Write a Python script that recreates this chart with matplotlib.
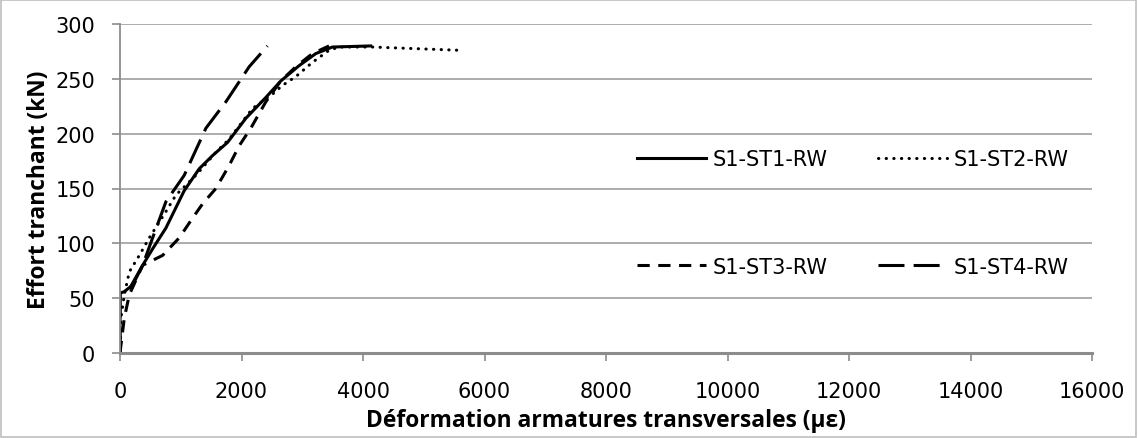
import matplotlib
matplotlib.use("Agg")
import matplotlib.pyplot as plt
from matplotlib.patches import Rectangle

plt.rcParams['font.family'] = ['DejaVu Sans']
LABEL_FONT = ['Open Sans', 'DejaVu Sans']

st1_x = [0, 0, 71, 208, 373, 537, 756, 1057, 1304, 1523, 1770, 2071, 2400, 2646, 2948, 3222, 3496, 4126]
st1_y = [0, 54.5, 56, 62, 80, 95, 114, 148, 168, 180, 192, 214, 233, 248, 262, 273, 279, 280]

st2_x = [0, 16, 71, 153, 318, 482, 756, 920, 1249, 1578, 1797, 2181, 2509, 2674, 2893, 3167, 3441, 3605, 4153, 5605]
st2_y = [0, 32, 53, 74, 89, 105, 129, 144, 162, 183, 195, 223, 236, 244, 252, 265, 276, 279, 279, 276]

st3_x = [0, 71, 153, 373, 701, 975, 1194, 1359, 1578, 1797, 1962, 2153, 2400, 2646, 2893, 3167, 3441]
st3_y = [0, 32, 53, 80, 89, 105, 123, 136, 150, 171, 189, 205, 229, 248, 261, 273, 280]

st4_x = [0, 0, 150, 373, 537, 756, 1057, 1414, 1742, 2126, 2427]
st4_y = [0, 55, 58, 80, 105, 138, 162, 205, 229, 261, 280]

labels = ['S1-ST1-RW', 'S1-ST2-RW', 'S1-ST3-RW', 'S1-ST4-RW']
x_ticks = [0, 2000, 4000, 6000, 8000, 10000, 12000, 14000, 16000]
y_ticks = [0, 50, 100, 150, 200, 250, 300]

fig = plt.figure(figsize=(11.38, 4.39), dpi=100)
ax = fig.add_axes([120/1138, 1-354/439, (1092-120)/1138, (354-25)/439])

l1, = ax.plot(st1_x, st1_y, color='black', lw=2.2, linestyle='-')
l2, = ax.plot(st2_x, st2_y, color='black', lw=2.2, linestyle=(0, (0.1, 2.4)), dash_capstyle='round')
l3, = ax.plot(st3_x, st3_y, color='black', lw=2.2, linestyle=(0, (4, 2.8)))
l4, = ax.plot(st4_x, st4_y, color='black', lw=2.2, linestyle=(0, (8.5, 3)))

ax.set_xlim(0, 16000)
ax.set_ylim(0, 300)
ax.set_xticks(x_ticks)
ax.set_yticks(y_ticks)
ax.grid(axis='y', color='#a6a6a6', lw=1.3)
ax.set_axisbelow(True)
for s in ['top', 'right']:
    ax.spines[s].set_visible(False)
ax.spines['left'].set_color('#8c8c8c')
ax.spines['left'].set_linewidth(1.3)
ax.spines['bottom'].set_color('#8c8c8c')
ax.spines['bottom'].set_linewidth(2.2)
ax.tick_params(axis='both', colors='#8c8c8c', labelcolor='black', labelsize=15, length=6, width=1.2)
ax.tick_params(axis='x', pad=14)
ax.tick_params(axis='y', pad=12)
ax.set_xlabel('Déformation armatures transversales (με)', fontsize=16.4, fontweight='bold',
              family=LABEL_FONT, labelpad=5)
ax.set_ylabel('Effort tranchant (kN)', fontsize=16.4, fontweight='bold',
              family=LABEL_FONT, labelpad=3)

leg = ax.legend([l1, l3, l2, l4], [labels[0], labels[2], labels[1], labels[3]], ncol=2,
                frameon=False, fontsize=15, handlelength=3.3, labelspacing=4.2,
                columnspacing=2.4, handletextpad=0.34, borderpad=0, borderaxespad=0,
                loc='center left', bbox_to_anchor=(637/1138, 1-214/439),
                bbox_transform=fig.transFigure)

fig.patches.append(Rectangle((0.001, 0.002), 0.997, 0.995, transform=fig.transFigure,
                             fill=False, edgecolor='#bfbfbf', lw=1.2))

fig.savefig('out.png', dpi=100)
